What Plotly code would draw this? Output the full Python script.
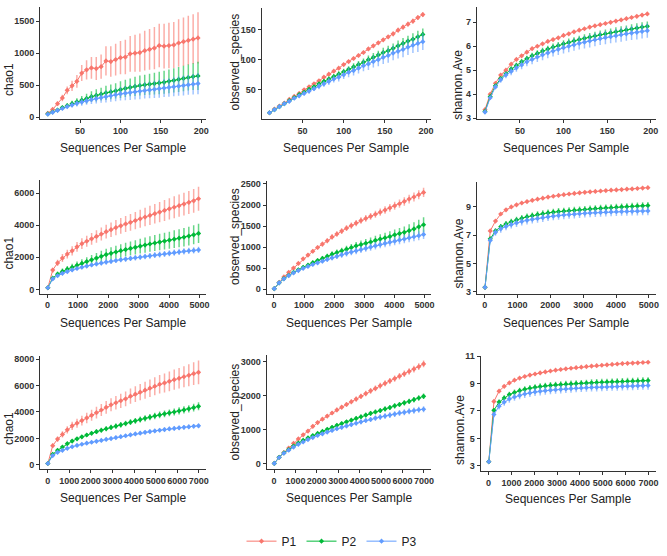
import plotly.graph_objects as go

groups = ["P1", "P2", "P3"]
colors = ["#F8766D", "#00BA38", "#619CFF"]
err_colors = ["rgba(248,118,109,0.6)", "rgba(0,186,56,0.6)", "rgba(97,156,255,0.6)"]

# ---------------- x values (sequences per sample) ----------------
x_top = [10, 16, 22, 28, 34, 40, 46, 52, 58, 64, 70, 76, 82, 88, 94, 100, 106, 112, 118, 124,
         130, 136, 142, 148, 154, 160, 166, 172, 178, 184, 190, 196]
x_mid = [10, 170, 330, 490, 650, 810, 970, 1130, 1290, 1450, 1610, 1770, 1930, 2090, 2250, 2410,
         2570, 2730, 2890, 3050, 3210, 3370, 3530, 3690, 3850, 4010, 4170, 4330, 4490, 4650, 4810, 4970]
x_bot = [10, 235, 460, 685, 910, 1135, 1360, 1585, 1810, 2035, 2260, 2485, 2710, 2935, 3160, 3385,
         3610, 3835, 4060, 4285, 4510, 4735, 4960, 5185, 5410, 5635, 5860, 6085, 6310, 6535, 6760, 6985]

# ---------------- row 1 ----------------
chao1_top_P1 = [60, 120, 210, 300, 420, 490, 560, 690, 740, 770, 760, 790, 880, 870, 900, 930, 940, 990, 1000, 1010,
                1040, 1060, 1080, 1120, 1110, 1120, 1130, 1160, 1180, 1200, 1220, 1240]
chao1_top_P2 = [50, 80, 110, 150, 180, 210, 240, 265, 290, 320, 340, 360, 380, 395, 410, 430, 450, 465, 480, 495,
                505, 515, 525, 535, 545, 560, 575, 590, 605, 620, 635, 645]
chao1_top_P3 = [45, 75, 105, 135, 165, 190, 215, 235, 255, 275, 290, 305, 320, 335, 350, 365, 375, 385, 395, 405,
                415, 425, 435, 445, 455, 465, 475, 485, 495, 505, 515, 525]
chao1_top_P1_err = [10, 20, 30, 50, 60, 80, 100, 125, 150, 170, 180, 190, 230, 240, 250, 260, 270, 280, 290, 300,
                    310, 320, 330, 340, 350, 355, 360, 370, 380, 385, 390, 400]
chao1_top_P2_err = [5, 10, 15, 25, 35, 45, 55, 65, 75, 85, 95, 100, 110, 115, 120, 130, 135, 140, 150, 155,
                    160, 165, 170, 175, 180, 185, 190, 195, 200, 205, 210, 220]
chao1_top_P3_err = [5, 10, 15, 20, 30, 40, 50, 55, 60, 70, 75, 80, 90, 95, 100, 105, 110, 115, 120, 125,
                    125, 130, 135, 140, 140, 145, 150, 150, 155, 155, 160, 165]

obs_top_P1 = [12, 18, 23, 28, 34, 39, 44, 50, 55, 60, 65, 71, 76, 81, 86, 92, 97, 102, 107, 112,
              118, 123, 128, 133, 138, 143, 149, 154, 159, 164, 170, 175]
obs_top_P2 = [12, 17, 22, 27, 32, 37, 42, 46, 51, 55, 60, 64, 68, 72, 76, 80, 84, 88, 92, 96,
              100, 104, 108, 112, 115, 119, 123, 127, 131, 134, 138, 142]
obs_top_P3 = [12, 17, 22, 27, 31, 36, 40, 44, 48, 52, 56, 60, 64, 68, 71, 75, 79, 82, 86, 90,
              93, 97, 100, 104, 107, 111, 114, 117, 121, 124, 127, 130]
obs_top_P1_err = [0, 0, 0, 1, 1, 1, 1, 1, 1, 2, 2, 2, 2, 2, 2, 2, 2, 3, 3, 3, 3, 3, 3, 3, 3, 4, 4, 4, 4, 4, 4, 4]
obs_top_P2_err = [0, 0, 1, 1, 1, 2, 2, 2, 3, 3, 3, 4, 4, 4, 5, 5, 5, 6, 6, 6, 7, 7, 7, 8, 8, 8, 9, 9, 9, 10, 10, 10]
obs_top_P3_err = [0, 0, 1, 1, 2, 2, 3, 3, 4, 4, 5, 5, 6, 6, 7, 7, 8, 8, 9, 9, 10, 10, 11, 11, 12, 12, 12, 13, 13, 13, 14, 14]

sh_top_P1 = [3.35, 4.0, 4.45, 4.8, 5.0, 5.25, 5.45, 5.6, 5.75, 5.9, 6.0, 6.1, 6.2, 6.28, 6.35, 6.45,
             6.52, 6.6, 6.67, 6.73, 6.8, 6.85, 6.9, 6.95, 7.0, 7.05, 7.1, 7.15, 7.2, 7.25, 7.3, 7.35]
sh_top_P2 = [3.28, 3.9, 4.35, 4.65, 4.85, 5.05, 5.2, 5.35, 5.48, 5.6, 5.7, 5.8, 5.88, 5.96, 6.03, 6.1,
             6.16, 6.22, 6.28, 6.33, 6.38, 6.43, 6.48, 6.52, 6.56, 6.6, 6.64, 6.68, 6.72, 6.76, 6.8, 6.83]
sh_top_P3 = [3.25, 3.85, 4.3, 4.6, 4.8, 4.95, 5.1, 5.22, 5.35, 5.45, 5.55, 5.64, 5.72, 5.8, 5.87, 5.94,
             6.0, 6.06, 6.12, 6.17, 6.22, 6.27, 6.32, 6.36, 6.4, 6.44, 6.48, 6.52, 6.55, 6.58, 6.62, 6.65]
sh_top_P1_err = [0.02, 0.03, 0.03, 0.03, 0.03, 0.03, 0.04, 0.04, 0.04, 0.04, 0.04, 0.04, 0.04, 0.05, 0.05, 0.05,
                 0.05, 0.05, 0.05, 0.05, 0.05, 0.05, 0.05, 0.05, 0.05, 0.05, 0.05, 0.05, 0.05, 0.05, 0.05, 0.05]
sh_top_P2_err = [0.03, 0.05, 0.07, 0.08, 0.09, 0.1, 0.11, 0.12, 0.12, 0.13, 0.13, 0.14, 0.14, 0.15, 0.15, 0.15,
                 0.16, 0.16, 0.16, 0.17, 0.17, 0.17, 0.18, 0.18, 0.18, 0.19, 0.19, 0.19, 0.2, 0.2, 0.2, 0.2]
sh_top_P3_err = [0.04, 0.08, 0.1, 0.12, 0.14, 0.16, 0.17, 0.18, 0.19, 0.2, 0.21, 0.22, 0.22, 0.23, 0.24, 0.24,
                 0.25, 0.25, 0.26, 0.26, 0.27, 0.27, 0.27, 0.28, 0.28, 0.28, 0.29, 0.29, 0.29, 0.3, 0.3, 0.3]

# ---------------- row 2 ----------------
chao1_mid_P1 = [100, 1200, 1650, 1950, 2200, 2400, 2650, 2850, 3000, 3150, 3300, 3450, 3600, 3720, 3850, 3960,
                4080, 4180, 4290, 4400, 4510, 4610, 4720, 4820, 4920, 5020, 5120, 5220, 5320, 5420, 5520, 5650]
chao1_mid_P2 = [100, 700, 950, 1120, 1260, 1380, 1500, 1620, 1730, 1840, 1950, 2060, 2170, 2250, 2330, 2410,
                2480, 2550, 2620, 2690, 2760, 2830, 2890, 2950, 3010, 3070, 3130, 3190, 3250, 3320, 3400, 3490]
chao1_mid_P3 = [100, 650, 850, 1000, 1110, 1210, 1300, 1380, 1450, 1520, 1580, 1640, 1700, 1750, 1800, 1850,
                1890, 1930, 1970, 2010, 2050, 2090, 2130, 2170, 2210, 2250, 2290, 2330, 2370, 2400, 2430, 2460]
chao1_mid_P1_err = [20, 150, 200, 250, 270, 290, 310, 330, 350, 370, 390, 410, 430, 450, 470, 490,
                    500, 520, 540, 560, 580, 600, 610, 630, 650, 660, 680, 700, 710, 720, 740, 750]
chao1_mid_P2_err = [10, 100, 150, 180, 200, 220, 240, 260, 280, 300, 320, 340, 360, 380, 390, 400,
                    420, 430, 440, 460, 470, 480, 500, 510, 520, 530, 550, 560, 570, 580, 590, 600]
chao1_mid_P3_err = [10, 60, 80, 90, 100, 110, 115, 120, 125, 130, 135, 140, 145, 150, 155, 160,
                    165, 165, 170, 170, 175, 180, 180, 185, 185, 190, 190, 195, 195, 200, 200, 200]

obs_mid_P1 = [10, 160, 290, 400, 500, 610, 720, 810, 900, 990, 1070, 1150, 1240, 1310, 1380, 1450,
              1510, 1570, 1630, 1680, 1730, 1780, 1830, 1880, 1930, 1980, 2030, 2085, 2140, 2190, 2245, 2300]
obs_mid_P2 = [10, 150, 250, 330, 400, 460, 520, 570, 630, 680, 730, 780, 830, 870, 910, 950,
              990, 1030, 1060, 1090, 1120, 1160, 1190, 1220, 1250, 1290, 1320, 1350, 1390, 1430, 1480, 1530]
obs_mid_P3 = [10, 150, 245, 320, 385, 440, 495, 540, 585, 625, 665, 705, 745, 780, 815, 850,
              880, 910, 940, 970, 1000, 1030, 1060, 1090, 1115, 1140, 1165, 1190, 1220, 1245, 1270, 1300]
obs_mid_P1_err = [0, 10, 15, 20, 25, 30, 35, 40, 45, 50, 55, 60, 62, 65, 68, 70,
                  72, 75, 78, 80, 82, 85, 88, 90, 92, 95, 98, 100, 102, 105, 108, 110]
obs_mid_P2_err = [0, 10, 15, 20, 25, 30, 35, 40, 45, 50, 55, 60, 65, 70, 75, 80,
                  85, 90, 95, 100, 105, 110, 115, 120, 125, 130, 135, 140, 150, 160, 170, 180]
obs_mid_P3_err = [0, 8, 12, 15, 20, 25, 30, 35, 40, 45, 50, 55, 60, 65, 70, 72,
                  75, 78, 80, 82, 85, 88, 90, 92, 95, 98, 100, 102, 104, 106, 108, 110]

sh_mid_P1 = [3.3, 7.3, 8.0, 8.5, 8.8, 9.0, 9.15, 9.28, 9.38, 9.47, 9.55, 9.62, 9.7, 9.76, 9.82, 9.87,
             9.92, 9.96, 10.0, 10.04, 10.07, 10.1, 10.13, 10.16, 10.19, 10.21, 10.23, 10.26, 10.28, 10.31, 10.34, 10.37]
sh_mid_P2 = [3.3, 6.74, 7.3, 7.6, 7.8, 7.95, 8.08, 8.2, 8.3, 8.38, 8.45, 8.52, 8.58, 8.63, 8.67, 8.7,
             8.73, 8.76, 8.79, 8.82, 8.85, 8.88, 8.9, 8.93, 8.95, 8.98, 9.0, 9.02, 9.04, 9.06, 9.08, 9.1]
sh_mid_P3 = [3.3, 6.63, 7.2, 7.45, 7.62, 7.75, 7.87, 7.97, 8.05, 8.12, 8.18, 8.24, 8.3, 8.35, 8.39, 8.43,
             8.46, 8.49, 8.52, 8.55, 8.57, 8.59, 8.61, 8.63, 8.65, 8.66, 8.67, 8.68, 8.69, 8.7, 8.71, 8.72]
sh_mid_P1_err = [0.02, 0.05, 0.05, 0.05, 0.05, 0.05, 0.05, 0.05, 0.05, 0.05, 0.05, 0.05, 0.05, 0.05, 0.05, 0.05,
                 0.05, 0.05, 0.05, 0.05, 0.05, 0.05, 0.05, 0.05, 0.05, 0.05, 0.05, 0.05, 0.05, 0.05, 0.05, 0.05]
sh_mid_P2_err = [0.02, 0.15, 0.18, 0.2, 0.21, 0.22, 0.22, 0.23, 0.23, 0.23, 0.24, 0.24, 0.24, 0.24, 0.25, 0.25,
                 0.25, 0.25, 0.25, 0.25, 0.25, 0.25, 0.25, 0.25, 0.25, 0.25, 0.25, 0.25, 0.25, 0.25, 0.25, 0.25]
sh_mid_P3_err = [0.02, 0.2, 0.25, 0.27, 0.28, 0.28, 0.29, 0.29, 0.29, 0.3, 0.3, 0.3, 0.3, 0.3, 0.3, 0.3,
                 0.3, 0.3, 0.3, 0.3, 0.3, 0.3, 0.3, 0.3, 0.3, 0.3, 0.3, 0.3, 0.3, 0.3, 0.3, 0.3]

# ---------------- row 3 ----------------
chao1_bot_P1 = [100, 1450, 1950, 2300, 2650, 2950, 3150, 3350, 3550, 3750, 3950, 4150, 4350, 4550, 4700, 4850,
                5000, 5200, 5350, 5500, 5650, 5800, 5950, 6100, 6200, 6320, 6450, 6550, 6670, 6780, 6900, 7000]
chao1_bot_P2 = [100, 800, 1100, 1350, 1600, 1800, 1970, 2120, 2260, 2390, 2510, 2620, 2730, 2830, 2930, 3030,
                3130, 3230, 3330, 3430, 3520, 3610, 3700, 3780, 3860, 3930, 4000, 4080, 4160, 4240, 4330, 4430]
chao1_bot_P3 = [100, 700, 950, 1100, 1250, 1370, 1470, 1560, 1640, 1710, 1780, 1850, 1920, 1990, 2060, 2130,
                2200, 2270, 2340, 2400, 2460, 2520, 2570, 2620, 2670, 2720, 2760, 2800, 2840, 2880, 2920, 2950]
chao1_bot_P1_err = [20, 150, 200, 240, 280, 310, 340, 370, 400, 420, 440, 460, 480, 500, 520, 540,
                    560, 580, 600, 620, 640, 660, 680, 700, 720, 740, 760, 780, 800, 830, 860, 900]
chao1_bot_P2_err = [10, 60, 80, 100, 110, 120, 130, 140, 150, 160, 170, 180, 190, 200, 205, 210,
                    215, 220, 225, 230, 235, 240, 245, 250, 255, 260, 265, 270, 275, 280, 290, 300]
chao1_bot_P3_err = [10, 50, 60, 70, 80, 90, 95, 100, 105, 110, 115, 120, 125, 130, 130, 135,
                    135, 140, 140, 145, 145, 150, 150, 155, 155, 160, 160, 165, 165, 170, 170, 170]

obs_bot_P1 = [10, 190, 330, 460, 600, 730, 850, 960, 1100, 1210, 1310, 1400, 1490, 1580, 1660, 1740,
              1820, 1900, 1980, 2060, 2140, 2210, 2290, 2360, 2430, 2500, 2570, 2640, 2710, 2780, 2850, 2930]
obs_bot_P2 = [10, 190, 320, 420, 520, 610, 690, 760, 830, 890, 950, 1010, 1070, 1130, 1180, 1230,
              1280, 1330, 1380, 1430, 1480, 1520, 1560, 1610, 1650, 1700, 1740, 1790, 1830, 1880, 1930, 1980]
obs_bot_P3 = [10, 185, 310, 400, 490, 570, 640, 710, 770, 830, 880, 930, 980, 1030, 1070, 1110,
              1150, 1190, 1230, 1270, 1300, 1340, 1370, 1400, 1430, 1460, 1490, 1510, 1540, 1560, 1585, 1600]
obs_bot_P1_err = [0, 15, 20, 25, 30, 35, 40, 45, 50, 55, 58, 60, 62, 65, 68, 70,
                  72, 75, 78, 80, 82, 84, 86, 88, 90, 92, 94, 95, 96, 98, 99, 100]
obs_bot_P2_err = [0, 10, 15, 20, 25, 30, 35, 38, 40, 42, 45, 48, 50, 52, 55, 58,
                  60, 62, 64, 66, 68, 70, 72, 73, 74, 75, 76, 77, 78, 79, 80, 80]
obs_bot_P3_err = [0, 10, 15, 20, 25, 30, 35, 40, 45, 50, 52, 55, 58, 60, 62, 65,
                  68, 70, 72, 74, 76, 78, 80, 82, 84, 85, 86, 87, 88, 89, 90, 90]

sh_bot_P1 = [3.3, 7.7, 8.45, 8.8, 9.05, 9.25, 9.4, 9.52, 9.62, 9.7, 9.78, 9.85, 9.92, 9.98, 10.03, 10.08,
             10.12, 10.16, 10.2, 10.24, 10.28, 10.31, 10.34, 10.37, 10.4, 10.43, 10.46, 10.48, 10.5, 10.52, 10.54, 10.56]
sh_bot_P2 = [3.3, 7.05, 7.65, 7.95, 8.2, 8.35, 8.48, 8.58, 8.66, 8.73, 8.78, 8.83, 8.87, 8.9, 8.93, 8.96,
             8.98, 9.0, 9.02, 9.04, 9.06, 9.08, 9.1, 9.11, 9.13, 9.14, 9.15, 9.17, 9.18, 9.19, 9.21, 9.22]
sh_bot_P3 = [3.3, 6.75, 7.35, 7.65, 7.88, 8.02, 8.14, 8.24, 8.32, 8.39, 8.44, 8.48, 8.52, 8.55, 8.58, 8.61,
             8.64, 8.66, 8.68, 8.7, 8.72, 8.73, 8.74, 8.76, 8.77, 8.78, 8.8, 8.81, 8.82, 8.84, 8.85, 8.86]
sh_bot_P1_err = [0.02, 0.06, 0.06, 0.06, 0.06, 0.06, 0.06, 0.06, 0.06, 0.06, 0.06, 0.06, 0.06, 0.06, 0.06, 0.06,
                 0.06, 0.06, 0.06, 0.06, 0.06, 0.06, 0.06, 0.06, 0.06, 0.06, 0.06, 0.06, 0.06, 0.06, 0.06, 0.06]
sh_bot_P2_err = [0.02, 0.15, 0.18, 0.2, 0.21, 0.22, 0.22, 0.23, 0.23, 0.23, 0.24, 0.24, 0.24, 0.24, 0.25, 0.25,
                 0.25, 0.25, 0.25, 0.25, 0.25, 0.25, 0.25, 0.25, 0.25, 0.25, 0.25, 0.25, 0.25, 0.25, 0.25, 0.25]
sh_bot_P3_err = [0.02, 0.2, 0.25, 0.27, 0.28, 0.28, 0.29, 0.29, 0.29, 0.3, 0.3, 0.3, 0.3, 0.3, 0.3, 0.3,
                 0.3, 0.3, 0.3, 0.3, 0.3, 0.3, 0.3, 0.3, 0.3, 0.3, 0.3, 0.3, 0.3, 0.3, 0.3, 0.3]

# ---------------- tick values ----------------
xticks_top = [50, 100, 150, 200]
xticks_mid = [0, 1000, 2000, 3000, 4000, 5000]
xticks_bot = [0, 1000, 2000, 3000, 4000, 5000, 6000, 7000]
yticks_chao1_top = [0, 500, 1000, 1500]
yticks_obs_top = [50, 100, 150]
yticks_sh_top = [3, 4, 5, 6, 7]
yticks_chao1_mid = [0, 2000, 4000, 6000]
yticks_obs_mid = [0, 500, 1000, 1500, 2000, 2500]
yticks_sh_mid = [3, 5, 7, 9]
yticks_chao1_bot = [0, 2000, 4000, 6000, 8000]
yticks_obs_bot = [0, 1000, 2000, 3000]
yticks_sh_bot = [3, 5, 7, 9, 11]

x_title = "Sequences Per Sample"
metric_titles = ["chao1", "observed_species", "shannon.Ave"]

panels = [
    (x_top, [chao1_top_P1, chao1_top_P2, chao1_top_P3], [chao1_top_P1_err, chao1_top_P2_err, chao1_top_P3_err], xticks_top, yticks_chao1_top, 0),
    (x_top, [obs_top_P1, obs_top_P2, obs_top_P3], [obs_top_P1_err, obs_top_P2_err, obs_top_P3_err], xticks_top, yticks_obs_top, 1),
    (x_top, [sh_top_P1, sh_top_P2, sh_top_P3], [sh_top_P1_err, sh_top_P2_err, sh_top_P3_err], xticks_top, yticks_sh_top, 2),
    (x_mid, [chao1_mid_P1, chao1_mid_P2, chao1_mid_P3], [chao1_mid_P1_err, chao1_mid_P2_err, chao1_mid_P3_err], xticks_mid, yticks_chao1_mid, 0),
    (x_mid, [obs_mid_P1, obs_mid_P2, obs_mid_P3], [obs_mid_P1_err, obs_mid_P2_err, obs_mid_P3_err], xticks_mid, yticks_obs_mid, 1),
    (x_mid, [sh_mid_P1, sh_mid_P2, sh_mid_P3], [sh_mid_P1_err, sh_mid_P2_err, sh_mid_P3_err], xticks_mid, yticks_sh_mid, 2),
    (x_bot, [chao1_bot_P1, chao1_bot_P2, chao1_bot_P3], [chao1_bot_P1_err, chao1_bot_P2_err, chao1_bot_P3_err], xticks_bot, yticks_chao1_bot, 0),
    (x_bot, [obs_bot_P1, obs_bot_P2, obs_bot_P3], [obs_bot_P1_err, obs_bot_P2_err, obs_bot_P3_err], xticks_bot, yticks_obs_bot, 1),
    (x_bot, [sh_bot_P1, sh_bot_P2, sh_bot_P3], [sh_bot_P1_err, sh_bot_P2_err, sh_bot_P3_err], xticks_bot, yticks_sh_bot, 2),
]

# ---------------- layout geometry (pixels) ----------------
W, H = 667, 556
# left, right, top, bottom, x range, y range
geo = [
    (40.5, 207, 2, 117, [0.7, 206], [-30, 1724]),
    (263, 433, 3, 117, [0.7, 206], [1.5, 186]),
    (479, 659, 2, 117, [0.7, 206], [2.96, 7.64]),
    (40.5, 207, 180, 296, [-238, 5218], [-261, 6790]),
    (268, 433, 181, 296, [-238, 5218], [-105, 2560]),
    (479, 659, 182, 296, [-238, 5218], [2.86, 10.74]),
    (40.5, 207, 360, 476, [-339, 7334], [-317, 8244]),
    (268, 433, 359, 476, [-339, 7334], [-153, 3193]),
    (483, 659, 360, 478, [-339, 7334], [2.62, 11.02]),
]
ytitle_pos = [(9, 76), (236, 58), (460, 82),
              (9, 254), (236, 237), (461, 255),
              (9, 434), (236, 417), (462, 436)]
xtitle_y = [147, 147, 147, 326, 326, 326, 506, 506, 507]

FONT = "Liberation Sans, Arial, sans-serif"
AXC = "#333333"

fig = go.Figure()
layout = dict(width=W, height=H, margin=dict(l=0, r=0, t=0, b=0),
              paper_bgcolor="white", plot_bgcolor="white",
              font=dict(family=FONT, color="#333333"))
annotations = []

for i, (xs, means, errs, xt, yt, mi) in enumerate(panels):
    n = i + 1
    xa = "x" if n == 1 else f"x{n}"
    ya = "y" if n == 1 else f"y{n}"
    for g in range(3):
        fig.add_trace(go.Scatter(
            x=xs, y=means[g], mode="lines+markers", name=groups[g],
            legendgroup=groups[g], showlegend=(i == 0),
            line=dict(color=colors[g], width=1),
            marker=dict(color=colors[g], symbol="diamond", size=4),
            error_y=dict(type="data", array=errs[g], visible=True,
                         color=err_colors[g], thickness=1.5, width=0),
            xaxis=xa, yaxis=ya))
    l, r, t, b, xr, yr = geo[i]
    axkey_x = "xaxis" if n == 1 else f"xaxis{n}"
    axkey_y = "yaxis" if n == 1 else f"yaxis{n}"
    layout[axkey_x] = dict(domain=[l / W, r / W], range=xr, anchor=ya,
                           showline=True, linecolor=AXC, linewidth=1.3,
                           ticks="outside", ticklen=3, tickcolor=AXC, tickwidth=1.2,
                           tickvals=xt, tickangle=0, showgrid=False, zeroline=False,
                           tickfont=dict(family=FONT, size=9, color="#333333", weight="bold"))
    layout[axkey_y] = dict(domain=[1 - b / H, 1 - t / H], range=yr, anchor=xa,
                           showline=True, linecolor=AXC, linewidth=1.3,
                           ticks="outside", ticklen=3, tickcolor=AXC, tickwidth=1.2,
                           tickvals=yt, showgrid=False, zeroline=False,
                           tickfont=dict(family=FONT, size=9, color="#333333", weight="bold"))
    tx, ty = ytitle_pos[i]
    annotations.append(dict(text=metric_titles[mi], x=tx / W, y=1 - ty / H, xref="paper", yref="paper",
                            showarrow=False, textangle=-90, xanchor="center", yanchor="middle",
                            font=dict(family=FONT, size=12, color="#222222")))
    annotations.append(dict(text=x_title, x=((l + r) / 2) / W, y=1 - xtitle_y[i] / H, xref="paper", yref="paper",
                            showarrow=False, xanchor="center", yanchor="middle",
                            font=dict(family=FONT, size=12, color="#222222")))

layout["annotations"] = annotations
layout["legend"] = dict(orientation="h", x=0.5, xanchor="center", y=1 - 550 / H, yanchor="middle",
                        font=dict(family=FONT, size=12, color="#222222"),
                        itemwidth=30, bgcolor="rgba(0,0,0,0)")
fig.update_layout(**layout)
fig.write_html("out.html", config={"displayModeBar": False},
               post_script="document.body.style.margin='0px';document.body.style.overflow='hidden';")
